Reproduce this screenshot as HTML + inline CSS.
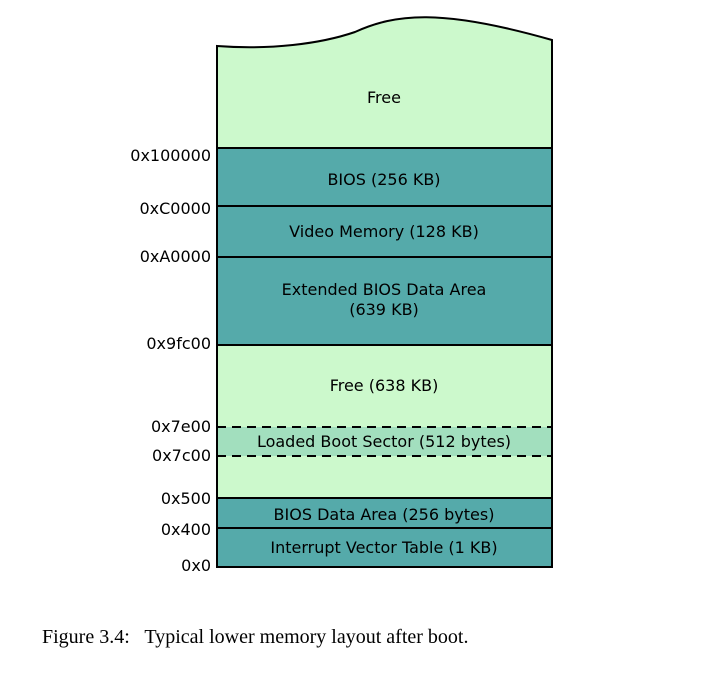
<!DOCTYPE html>
<html><head><style>body{margin:0;background:#fff}</style></head><body>
<svg width="701" height="674" xmlns="http://www.w3.org/2000/svg" style="display:block">
<g stroke="#000" stroke-width="2">
<path d="M217,46 C270,50 320,44 355,32 C395,14 440,8 552,40 L552,148 L217,148 Z" fill="#ccf9cc"/>
<rect x="217" y="148" width="335" height="197" fill="#55aaaa"/>
<line x1="217" y1="206" x2="552" y2="206"/>
<line x1="217" y1="257" x2="552" y2="257"/>
<rect x="217" y="345" width="335" height="153" fill="#ccf9cc"/>
<rect x="217" y="427" width="335" height="29" fill="#a2dfbe" stroke="none"/>
<line x1="217" y1="427" x2="552" y2="427" stroke-dasharray="9,6"/>
<line x1="217" y1="456" x2="552" y2="456" stroke-dasharray="9,6"/>
<rect x="217" y="498" width="335" height="69" fill="#55aaaa"/>
<line x1="217" y1="528" x2="552" y2="528"/>
<line x1="217" y1="345" x2="217" y2="498"/><line x1="552" y1="345" x2="552" y2="498"/>
</g>
<g font-family="DejaVu Sans, sans-serif" font-size="16" fill="#000" text-anchor="middle">
<text x="384" y="103">Free</text>
<text x="384" y="185">BIOS (256 KB)</text>
<text x="384" y="237">Video Memory (128 KB)</text>
<text x="384" y="295">Extended BIOS Data Area</text>
<text x="384" y="315">(639 KB)</text>
<text x="384" y="391">Free (638 KB)</text>
<text x="384" y="447">Loaded Boot Sector (512 bytes)</text>
<text x="384" y="520">BIOS Data Area (256 bytes)</text>
<text x="384" y="553">Interrupt Vector Table (1 KB)</text>
</g>
<g font-family="DejaVu Sans, sans-serif" font-size="16" fill="#000" text-anchor="end">
<text x="211" y="161">0x100000</text>
<text x="211" y="214">0xC0000</text>
<text x="211" y="262">0xA0000</text>
<text x="211" y="349">0x9fc00</text>
<text x="211" y="432">0x7e00</text>
<text x="211" y="461">0x7c00</text>
<text x="211" y="504">0x500</text>
<text x="211" y="535">0x400</text>
<text x="211" y="571">0x0</text>
</g>
<text x="42" y="643" font-family="Liberation Serif, serif" font-size="20" fill="#000" xml:space="preserve">Figure 3.4:   Typical lower memory layout after boot.</text>
</svg>
</body></html>
